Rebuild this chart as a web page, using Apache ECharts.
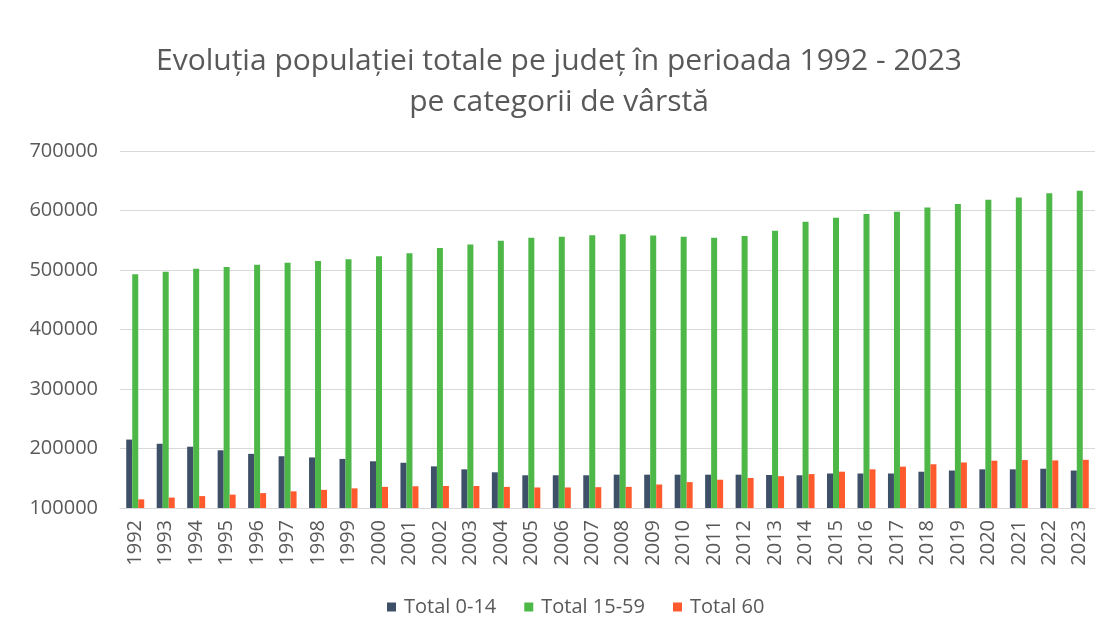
<!DOCTYPE html>
<html>
<head>
<meta charset="utf-8">
<script src="https://cdn.jsdelivr.net/npm/echarts@6/dist/echarts.min.js"></script>
<style>
  html, body { margin: 0; padding: 0; background: #fff; }
  #chart { width: 1118px; height: 639px; }
</style>
</head>
<body>
<div id="chart"></div>
<script>
// ani
var years = ['1992','1993','1994','1995','1996','1997','1998','1999','2000','2001','2002','2003','2004','2005','2006','2007',
             '2008','2009','2010','2011','2012','2013','2014','2015','2016','2017','2018','2019','2020','2021','2022','2023'];

// Total 0-14
var total0_14 = [215000,208000,203000,197000,191000,187000,185000,182500,178500,176000,170000,165000,160000,155000,155000,155000,
                 156000,156000,156000,156000,156000,155500,155000,158000,158000,158000,161000,163000,165000,165000,166000,163000];
// Total 15-59
var total15_59 = [493000,497000,502000,505000,509000,512000,515000,518000,523000,528000,537000,543000,549000,554000,556000,558500,
                  560000,558000,556000,554000,557000,566000,581000,588000,594000,598000,605000,611000,618000,622000,629000,633000];
// Total 60
var total60 = [114500,117500,120000,122500,125000,128000,130500,133000,135500,136500,137000,137000,135500,134500,134500,135000,
               135500,139500,143500,147500,150500,153500,157000,161000,165000,169500,173500,176500,179500,180500,180000,181000];

var yTicks = [100000,200000,300000,400000,500000,600000,700000];

var colors = ['#3E5068', '#4DB847', '#FF5A2D']; // culori serii
var gray = '#595959';
var font = 'Open Sans';

var chart = echarts.init(document.getElementById('chart'));

function makeSerie(name, data, color) {
  return {
    name: name,
    type: 'bar',
    data: data,
    barWidth: 6,
    barGap: '0%',
    itemStyle: { color: color }
  };
}

var option = {
  backgroundColor: '#fff',
  animation: false,
  color: colors,
  title: {
    text: 'Evoluția populației totale pe județ în perioada 1992 - 2023\npe categorii de vârstă',
    left: 'center',
    top: 36,
    textStyle: {
      fontFamily: font,
      fontSize: 30,
      fontWeight: 'normal',
      color: gray,
      lineHeight: 41
    }
  },
  legend: {
    bottom: 17,
    left: 382,
    itemWidth: 9,
    itemHeight: 9,
    itemGap: 28,
    icon: 'rect',
    textStyle: {
      fontFamily: font,
      fontSize: 20,
      color: gray,
      padding: [0, 0, 0, 3]
    },
    data: ['Total 0-14', 'Total 15-59', 'Total 60']
  },
  grid: {
    left: 120,
    right: 23,
    top: 151,
    bottom: 131
  },
  xAxis: {
    type: 'category',
    data: years,
    axisTick: { show: false },
    axisLine: { show: true, lineStyle: { color: '#D9D9D9', width: 1 } },
    axisLabel: {
      rotate: 90,
      interval: 0,
      margin: 12,
      fontFamily: font,
      fontSize: 20,
      color: gray
    }
  },
  yAxis: {
    type: 'value',
    min: yTicks[0],
    max: yTicks[yTicks.length - 1],
    interval: 100000,
    axisLine: { show: false },
    axisTick: { show: false },
    splitLine: { show: true, lineStyle: { color: '#D9D9D9', width: 1 } },
    axisLabel: {
      margin: 22,
      fontFamily: font,
      fontSize: 20,
      color: gray,
      formatter: function (v) { return String(v); }
    }
  },
  series: [
    makeSerie('Total 0-14', total0_14, colors[0]),
    makeSerie('Total 15-59', total15_59, colors[1]),
    makeSerie('Total 60', total60, colors[2])
  ]
};

chart.setOption(option);
</script>
</body>
</html>
